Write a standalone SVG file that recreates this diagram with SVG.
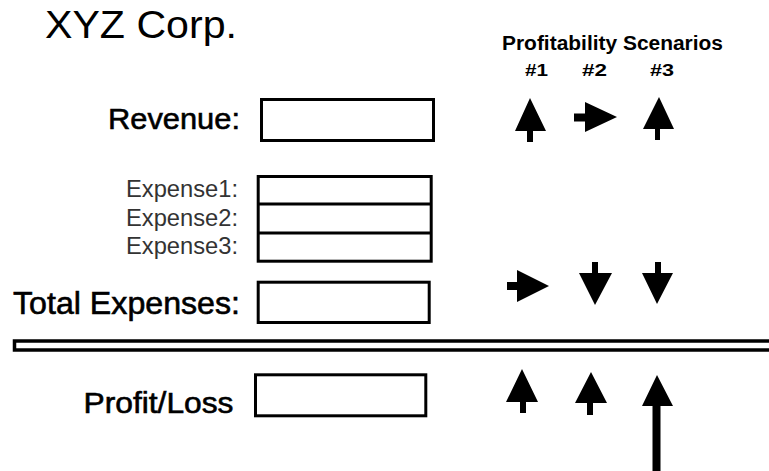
<svg xmlns="http://www.w3.org/2000/svg" width="769" height="471" viewBox="0 0 769 471">
  <style>
    .lbl { font-family: "Liberation Sans", Arial, sans-serif; fill: #000; }
    .heavy { stroke: #000; stroke-width: 0.6; }
    .sub { font-family: "Liberation Sans", Arial, sans-serif; fill: #333; }
    .hdr { font-family: "Liberation Sans", Arial, sans-serif; font-weight: bold; fill: #000; }
    .box { fill: #fff; stroke: #000; stroke-width: 3; }
    .arrow { fill: #000; stroke: none; }
  </style>
  <rect x="0" y="0" width="769" height="471" fill="#fff"/>

  <g id="title">
    <text class="lbl" x="45" y="37.5" font-size="39" textLength="192" lengthAdjust="spacingAndGlyphs">XYZ Corp.</text>
  </g>

  <g id="scenarios-header">
    <text class="hdr" x="502" y="49.5" font-size="19.5" textLength="221" lengthAdjust="spacingAndGlyphs">Profitability Scenarios</text>
    <text class="hdr" x="525" y="75.5" font-size="17" textLength="23" lengthAdjust="spacingAndGlyphs">#1</text>
    <text class="hdr" x="582" y="75.5" font-size="17" textLength="25" lengthAdjust="spacingAndGlyphs">#2</text>
    <text class="hdr" x="650" y="75.5" font-size="17" textLength="24" lengthAdjust="spacingAndGlyphs">#3</text>
  </g>

  <g id="revenue">
    <text class="lbl heavy" x="108" y="129" font-size="30" textLength="132" lengthAdjust="spacingAndGlyphs">Revenue:</text>
    <rect class="box" x="261.5" y="99.5" width="172" height="41"/>
  </g>

  <g id="expenses">
    <text class="sub" x="126" y="197" font-size="23.5" textLength="112" lengthAdjust="spacingAndGlyphs">Expense1:</text>
    <text class="sub" x="126" y="225.5" font-size="23.5" textLength="112" lengthAdjust="spacingAndGlyphs">Expense2:</text>
    <text class="sub" x="126" y="253.5" font-size="23.5" textLength="112" lengthAdjust="spacingAndGlyphs">Expense3:</text>
    <rect class="box" x="258.2" y="176.5" width="173" height="84.7"/>
    <line x1="258.2" y1="204" x2="431.2" y2="204" stroke="#000" stroke-width="3"/>
    <line x1="258.2" y1="233" x2="431.2" y2="233" stroke="#000" stroke-width="3"/>
  </g>

  <g id="total-expenses">
    <text class="lbl heavy" x="13" y="314" font-size="32" textLength="227" lengthAdjust="spacingAndGlyphs">Total Expenses:</text>
    <rect class="box" x="258.2" y="282.2" width="171" height="40.3"/>
  </g>

  <g id="divider">
    <rect x="14.5" y="341" width="800" height="9" fill="#fff" stroke="#000" stroke-width="3.5"/>
  </g>

  <g id="profit-loss">
    <text class="lbl heavy" x="83.5" y="412.5" font-size="30" textLength="150" lengthAdjust="spacingAndGlyphs">Profit/Loss</text>
    <rect class="box" x="255.5" y="374.8" width="170.3" height="41"/>
  </g>

  <g id="connectors">
    <!-- revenue row -->
    <path class="arrow" d="M530,98 L546,131 L533,131 L533,142 L527,142 L527,131 L515,131 Z"/>
    <path class="arrow" d="M617,117 L585,132 L585,121.5 L574,121.5 L574,113.5 L585,113.5 L585,102 Z"/>
    <path class="arrow" d="M659,97 L674,129 L660,129 L660,140 L655,140 L655,129 L643,129 Z"/>
    <!-- total expenses row -->
    <path class="arrow" d="M549,286 L517,302 L517,290 L507,290 L507,282 L517,282 L517,270 Z"/>
    <path class="arrow" d="M595,305 L612,273 L598,273 L598,262 L592,262 L592,273 L579,273 Z"/>
    <path class="arrow" d="M657,304 L673,273 L661,273 L661,262 L655,262 L655,273 L642,273 Z"/>
    <!-- profit/loss row -->
    <path class="arrow" d="M522,369 L538,402 L526,402 L526,413 L520,413 L520,402 L506,402 Z"/>
    <path class="arrow" d="M591,372 L607,403 L593,403 L593,415 L587,415 L587,403 L575,403 Z"/>
    <path class="arrow" d="M657,375 L673,406 L660.5,406 L660.5,471 L652.5,471 L652.5,406 L642,406 Z"/>
  </g>
</svg>
